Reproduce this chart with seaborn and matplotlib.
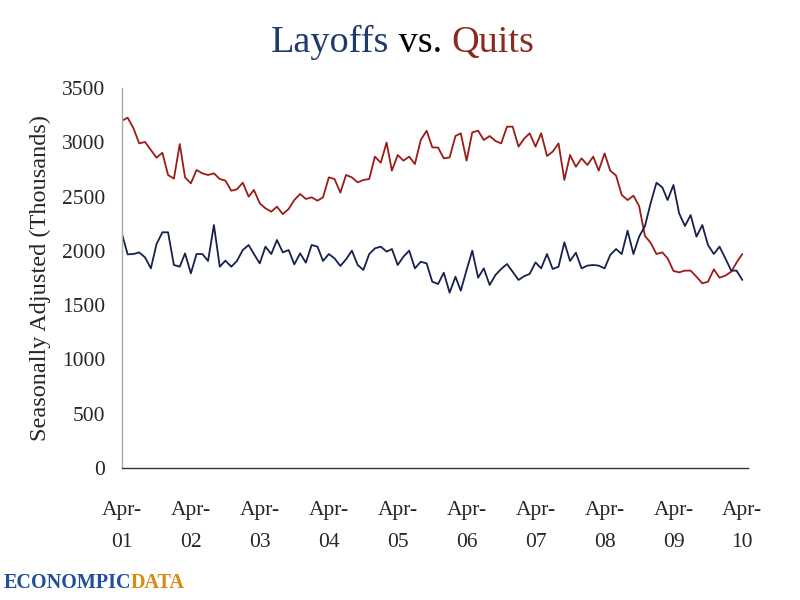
import pandas as pd
import numpy as np
import matplotlib
matplotlib.use("Agg")
import matplotlib.pyplot as plt
import seaborn as sns

# monthly JOLTS, seasonally adjusted (thousands), Apr-2001 .. Apr-2010
layoffs = [2155, 1968, 1971, 1986, 1940, 1839, 2063, 2171, 2171, 1870,
           1854, 1977, 1793, 1971, 1971, 1907, 2238, 1854, 1910, 1854,
           1907, 2008, 2054, 1971, 1885, 2039, 1971, 2100, 1986, 2008,
           1876, 1977, 1891, 2054, 2039, 1907, 1971,
           1931, 1861, 1922, 2002, 1870, 1824, 1971, 2023, 2039, 1993,
           2017, 1870, 1946, 2002, 1839, 1900, 1885, 1716, 1695, 1799,
           1615, 1762, 1633, 1824, 2002, 1753, 1839, 1686, 1778, 1833,
           1879, 1808, 1732, 1768, 1787, 1894,
           1839, 1971, 1833, 1854, 2079, 1907, 1983, 1839, 1864, 1870,
           1864, 1839, 1962, 2017, 1971, 2186, 1971, 2131, 2229, 2438,
           2628, 2585, 2468, 2607, 2346, 2229, 2330, 2131, 2238, 2054,
           1971, 2039, 1931, 1818, 1818, 1732]

quits = [3199, 3227, 3129, 2990, 3003, 2929, 2858, 2904, 2699, 2665,
         2984, 2677, 2622, 2745, 2714, 2699, 2714, 2662, 2647, 2554,
         2567, 2628, 2499, 2561, 2438, 2392, 2361, 2407, 2339, 2386,
         2468, 2524, 2478, 2493, 2462, 2493, 2677,
         2662, 2536, 2699, 2677, 2631, 2653, 2662, 2868, 2812, 2997,
         2739, 2883, 2831, 2868, 2800, 3021, 3107, 2954, 2951, 2852,
         2861, 3058, 3083, 2831, 3092, 3107, 3021, 3058, 3012, 2990,
         3144, 3144, 2960, 3036, 3083, 2960,
         3083, 2874, 2914, 2990, 2653, 2883, 2775, 2852, 2791, 2868,
         2739, 2898, 2739, 2693, 2515, 2468, 2508, 2413, 2137, 2075,
         1971, 1986, 1931, 1815, 1802, 1818, 1818, 1762, 1701, 1716,
         1830, 1753, 1772, 1808, 1891, 1971]

months = pd.date_range("2001-04-01", periods=len(quits), freq="MS")
tick_years = list(range(2001, 2011))
tick_labels = [f"Apr-\n{y % 100:02d}" for y in tick_years]

title_parts = [("Layoffs", "#1e3a6e"), (" vs. ", "black"), ("Quits", "#8b2a1e")]
logo_parts = [("ECONOMPIC", "#1f4f9a"), ("DATA", "#d98a12")]

layoff_color = "#16214d"
quit_color = "#9a1c17"

df = pd.DataFrame({"date": months, "Layoffs": layoffs[:len(months)], "Quits": quits})

sns.set_style("white")
plt.rcParams["font.family"] = ["Liberation Serif", "DejaVu Serif"]

fig = plt.figure(figsize=(8, 6), dpi=100)
ax = fig.add_axes([0.1525, 0.22, 0.7825, 0.6333])

sns.lineplot(data=df, x="date", y="Quits", color=quit_color, lw=1.3, ax=ax)
sns.lineplot(data=df, x="date", y="Layoffs", color=layoff_color, lw=1.3, ax=ax)

ax.set_ylim(0, 3500)
ax.set_yticks(range(0, 3501, 500))
ax.set_xlim(pd.Timestamp("2001-04-01"), pd.Timestamp("2010-05-01"))
ax.set_xticks([pd.Timestamp(f"{y}-04-01") for y in tick_years])
ax.set_xticklabels(tick_labels, linespacing=1.9)
ax.tick_params(axis="x", labelsize=15.5, length=8, width=1, color="#555555",
               direction="out", pad=16)
ax.tick_params(axis="y", labelsize=15.5, length=8, width=1, color="#aaaaaa",
               direction="out", pad=4)
ax.set_xlabel("")
ax.set_ylabel("Seasonally Adjusted (Thousands)", fontsize=17.5, labelpad=8)

for s in ["top", "right"]:
    ax.spines[s].set_visible(False)
ax.spines["left"].set_color("#aaaaaa")
ax.spines["bottom"].set_color("#333333")
ax.spines["left"].set_linewidth(1)
ax.spines["bottom"].set_linewidth(1)


def place_row(parts, x0, y, size, center=False, **kw):
    # lay coloured words side by side, measured with the renderer
    r = fig.canvas.get_renderer()
    texts = [fig.text(0, y, s, color=c, fontsize=size, va="baseline", **kw) for s, c in parts]
    widths = [t.get_window_extent(r).width / fig.bbox.width for t in texts]
    x = x0 - sum(widths) / 2 if center else x0
    for t, w in zip(texts, widths):
        t.set_x(x)
        x += w


place_row(title_parts, 0.503, 0.913, 27.5, center=True)
place_row(logo_parts, 0.004, 0.020, 14.5, fontweight="bold")

fig.savefig("out.png", dpi=100)
